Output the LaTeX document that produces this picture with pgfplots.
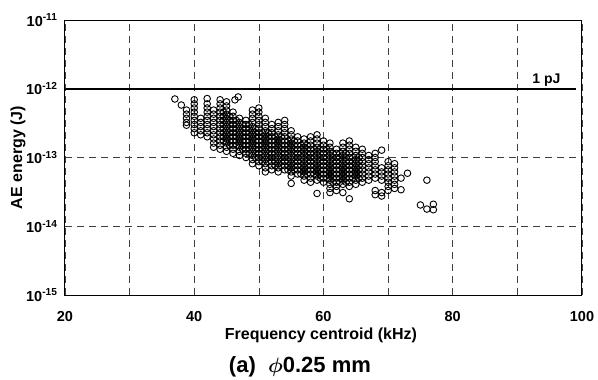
\documentclass[border=0pt]{standalone}
\usepackage{amsmath}
\usepackage{fontspec}
\setmainfont{Liberation Sans}
\usepackage{pgfplots}
\pgfplotsset{compat=1.18}
\begin{document}
\begin{tikzpicture}
\useasboundingbox (-65pt,-85pt) rectangle (533pt,295pt);
\begin{axis}[
  at={(0pt,0pt)}, anchor=south west,
  scale only axis, width=517pt, height=275pt,
  xmin=20, xmax=100, ymode=log, ymin=1e-15, ymax=1e-11,
  xtick={20,30,...,100}, xticklabels={20,,40,,60,,80,,100},
  ytick={1e-15,1e-14,1e-13,1e-12,1e-11},
  yticklabels={10\textsuperscript{-15},10\textsuperscript{-14},10\textsuperscript{-13},10\textsuperscript{-12},10\textsuperscript{-11}},
  yminorticks=false, major tick length=0pt,
  xticklabel style={font=\bfseries\fontsize{14.5}{16}\selectfont, yshift=-13pt},
  yticklabel style={font=\bfseries\fontsize{14.5}{16}\selectfont, xshift=-4pt},
  grid=major,
  major grid style={dash pattern=on 7pt off 5pt, line width=0.6pt, black!75},
  axis line style={line width=1pt},
  xlabel={Frequency centroid (kHz)},
  ylabel={AE energy (J)},
  every axis x label/.style={at={(axis description cs:0.495,-0.145)}, anchor=center, font=\bfseries\fontsize{16}{18}\selectfont},
  every axis y label/.style={at={(axis description cs:-0.091,0.5)}, anchor=center, rotate=90, font=\bfseries\fontsize{16}{18}\selectfont},
  clip=false,
]
\addplot[black, line width=1.6pt] coordinates {(20,1e-12) (99,1e-12)};
\node[anchor=south east, font=\bfseries\fontsize{14}{16}\selectfont, inner sep=2pt] at (axis cs:97,1e-12) {1 pJ};
\addplot[only marks, mark=o, mark size=3.3pt, mark options={line width=0.9pt, black}] coordinates {
(37,7.1e-13) (38,5.8e-13)
(38.8,4.9e-13) (38.8,4.27e-13) (38.8,3.72e-13) (38.8,3.24e-13) (38.8,2.95e-13)
(40,6.92e-13) (40,6.03e-13) (40,5.25e-13) (40,4.57e-13) (40,3.98e-13) (40,3.47e-13) (40,3.02e-13) (40,2.63e-13) (40,2.29e-13)
(41,3.72e-13) (41,3.24e-13) (41,2.82e-13) (41,2.45e-13) (41,2.14e-13)
(42,7.2e-13) (42,6.03e-13) (42,5.25e-13) (42,4.57e-13) (42,3.98e-13) (42,3.47e-13) (42,3.02e-13) (42,2.63e-13) (42,2.29e-13) (42,2.00e-13)
(43,4.90e-13) (43,4.27e-13) (43,3.72e-13) (43,3.24e-13) (43,2.82e-13) (43,2.45e-13) (43,2.14e-13) (43,1.86e-13) (43,1.62e-13) (43,1.41e-13)
(44,6.92e-13) (44,6.03e-13) (44,5.25e-13) (44,4.57e-13) (44,3.98e-13) (44,3.47e-13) (44,3.02e-13) (44,2.63e-13) (44,2.29e-13) (44,2.00e-13) (44,1.74e-13) (44,1.51e-13) (44,1.32e-13)
(45,6.46e-13) (45,5.62e-13) (45,4.90e-13) (45,4.27e-13) (45,3.72e-13) (45,3.24e-13) (45,2.82e-13) (45,2.45e-13) (45,2.14e-13) (45,1.86e-13) (45,1.62e-13) (45,1.41e-13) (45,1.23e-13)
(46,4.57e-13) (46,3.98e-13) (46,3.47e-13) (46,3.02e-13) (46,2.63e-13) (46,2.29e-13) (46,2.00e-13) (46,1.74e-13) (46,1.51e-13) (46,1.32e-13) (46,1.15e-13)
(46.8,7.6e-13) (46.3,6.9e-13)
(47,3.72e-13) (47,3.24e-13) (47,2.82e-13) (47,2.45e-13) (47,2.14e-13) (47,1.86e-13) (47,1.62e-13) (47,1.41e-13) (47,1.23e-13) (47,1.07e-13)
(48,3.47e-13) (48,3.02e-13) (48,2.63e-13) (48,2.29e-13) (48,2.00e-13) (48,1.74e-13) (48,1.51e-13) (48,1.32e-13) (48,1.15e-13) (48,1.00e-13)
(49,4.90e-13) (49,4.27e-13) (49,3.72e-13) (49,3.24e-13) (49,2.82e-13) (49,2.45e-13) (49,2.14e-13) (49,1.86e-13) (49,1.62e-13) (49,1.41e-13) (49,1.23e-13) (49,1.07e-13) (49,9.33e-14) (49,8.13e-14)
(50,5.25e-13) (50,4.57e-13) (50,3.98e-13) (50,3.47e-13) (50,3.02e-13) (50,2.63e-13) (50,2.29e-13) (50,2.00e-13) (50,1.74e-13) (50,1.51e-13) (50,1.32e-13) (50,1.15e-13) (50,1.00e-13) (50,8.71e-14) (50,7.59e-14)
(51,3.72e-13) (51,3.24e-13) (51,2.82e-13) (51,2.45e-13) (51,2.14e-13) (51,1.86e-13) (51,1.62e-13) (51,1.41e-13) (51,1.23e-13) (51,1.07e-13) (51,9.33e-14) (51,8.13e-14) (51,7.08e-14) (51,6.17e-14)
(52,3.02e-13) (52,2.63e-13) (52,2.29e-13) (52,2.00e-13) (52,1.74e-13) (52,1.51e-13) (52,1.32e-13) (52,1.15e-13) (52,1.00e-13) (52,8.71e-14) (52,7.59e-14) (52,6.61e-14)
(53,3.24e-13) (53,2.82e-13) (53,2.45e-13) (53,2.14e-13) (53,1.86e-13) (53,1.62e-13) (53,1.41e-13) (53,1.23e-13) (53,1.07e-13) (53,9.33e-14) (53,8.13e-14) (53,7.08e-14) (53,6.17e-14)
(54,3.47e-13) (54,3.02e-13) (54,2.63e-13) (54,2.29e-13) (54,2.00e-13) (54,1.74e-13) (54,1.51e-13) (54,1.32e-13) (54,1.15e-13) (54,1.00e-13) (54,8.71e-14) (54,7.59e-14) (54,6.61e-14)
(55,2.45e-13) (55,2.14e-13) (55,1.86e-13) (55,1.62e-13) (55,1.41e-13) (55,1.23e-13) (55,1.07e-13) (55,9.33e-14) (55,8.13e-14) (55,7.08e-14) (55,6.17e-14) (55,5.37e-14) (55,4.2e-14)
(56,2.00e-13) (56,1.74e-13) (56,1.51e-13) (56,1.32e-13) (56,1.15e-13) (56,1.00e-13) (56,8.71e-14) (56,7.59e-14) (56,6.61e-14) (56,5.75e-14)
(57,1.86e-13) (57,1.62e-13) (57,1.41e-13) (57,1.23e-13) (57,1.07e-13) (57,9.33e-14) (57,8.13e-14) (57,7.08e-14) (57,6.17e-14) (57,5.37e-14) (57,4.68e-14)
(58,2.00e-13) (58,1.74e-13) (58,1.51e-13) (58,1.32e-13) (58,1.15e-13) (58,1.00e-13) (58,8.71e-14) (58,7.59e-14) (58,6.61e-14) (58,5.75e-14) (58,5.01e-14) (58,4.37e-14)
(59,2.14e-13) (59,1.86e-13) (59,1.62e-13) (59,1.41e-13) (59,1.23e-13) (59,1.07e-13) (59,9.33e-14) (59,8.13e-14) (59,7.08e-14) (59,6.17e-14) (59,5.37e-14) (59,4.68e-14) (59,3.0e-14)
(60,1.74e-13) (60,1.51e-13) (60,1.32e-13) (60,1.15e-13) (60,1.00e-13) (60,8.71e-14) (60,7.59e-14) (60,6.61e-14) (60,5.75e-14) (60,5.01e-14) (60,4.37e-14)
(61,1.62e-13) (61,1.41e-13) (61,1.23e-13) (61,1.07e-13) (61,9.33e-14) (61,8.13e-14) (61,7.08e-14) (61,6.17e-14) (61,5.37e-14) (61,4.68e-14) (61,4.07e-14) (61,3.55e-14) (61,3.09e-14)
(62,1.32e-13) (62,1.15e-13) (62,1.00e-13) (62,8.71e-14) (62,7.59e-14) (62,6.61e-14) (62,5.75e-14) (62,5.01e-14) (62,4.37e-14) (62,3.80e-14) (62,3.31e-14)
(63,1.62e-13) (63,1.41e-13) (63,1.23e-13) (63,1.07e-13) (63,9.33e-14) (63,8.13e-14) (63,7.08e-14) (63,6.17e-14) (63,5.37e-14) (63,4.68e-14) (63,4.07e-14) (63,3.09e-14)
(64,1.74e-13) (64,1.51e-13) (64,1.32e-13) (64,1.15e-13) (64,1.00e-13) (64,8.71e-14) (64,7.59e-14) (64,6.61e-14) (64,5.75e-14) (64,5.01e-14) (64,4.37e-14) (64,3.80e-14) (64,2.51e-14)
(65,1.41e-13) (65,1.23e-13) (65,1.07e-13) (65,9.33e-14) (65,8.13e-14) (65,7.08e-14) (65,6.17e-14) (65,5.37e-14) (65,4.68e-14) (65,4.07e-14)
(66,1.32e-13) (66,1.15e-13) (66,1.00e-13) (66,8.71e-14) (66,7.59e-14) (66,6.61e-14) (66,5.75e-14) (66,5.01e-14) (66,4.37e-14)
(67,1.07e-13) (67,9.33e-14) (67,8.13e-14) (67,7.08e-14) (67,6.17e-14) (67,5.37e-14) (67,4.68e-14)
(68,1.15e-13) (68,1.00e-13) (68,8.71e-14) (68,7.59e-14) (68,6.61e-14) (68,5.75e-14) (68,5.01e-14) (68,3.31e-14) (68,2.88e-14)
(69,1.28e-13) (69,7.08e-14) (69,6.17e-14) (69,5.37e-14) (69,4.68e-14) (69,3.09e-14) (69,2.75e-14)
(70,8.71e-14) (70,7.59e-14) (70,6.61e-14) (70,5.75e-14) (70,5.01e-14) (70,4.37e-14) (70,3.80e-14) (70,3.31e-14)
(71,8.13e-14) (71,7.08e-14) (71,6.17e-14) (71,5.37e-14) (71,4.68e-14) (71,4.07e-14) (71,3.55e-14)
(72,5.01e-14) (72,3.40e-14) (73,5.9e-14)
(75,2.04e-14) (76,4.68e-14) (76,1.78e-14) (77,2.09e-14) (77,1.74e-14)
(44.5,4.57e-13) (44.5,3.98e-13) (44.5,3.47e-13) (44.5,3.02e-13) (44.5,2.63e-13) (44.5,2.29e-13) (44.5,2.00e-13) (44.5,1.74e-13)
(45.5,3.98e-13) (45.5,3.47e-13) (45.5,3.02e-13) (45.5,2.63e-13) (45.5,2.29e-13) (45.5,2.00e-13) (45.5,1.74e-13) (45.5,1.51e-13)
(46.5,3.47e-13) (46.5,3.02e-13) (46.5,2.63e-13) (46.5,2.29e-13) (46.5,2.00e-13) (46.5,1.74e-13) (46.5,1.51e-13)
(47.5,3.02e-13) (47.5,2.63e-13) (47.5,2.29e-13) (47.5,2.00e-13) (47.5,1.74e-13) (47.5,1.51e-13) (47.5,1.32e-13)
(48.5,3.02e-13) (48.5,2.63e-13) (48.5,2.29e-13) (48.5,2.00e-13) (48.5,1.74e-13) (48.5,1.51e-13) (48.5,1.32e-13) (48.5,1.15e-13)
(49.5,2.63e-13) (49.5,2.29e-13) (49.5,2.00e-13) (49.5,1.74e-13) (49.5,1.51e-13) (49.5,1.32e-13) (49.5,1.15e-13) (49.5,1.00e-13)
(50.5,2.29e-13) (50.5,2.00e-13) (50.5,1.74e-13) (50.5,1.51e-13) (50.5,1.32e-13) (50.5,1.15e-13) (50.5,1.00e-13) (50.5,8.71e-14)
(51.5,2.29e-13) (51.5,2.00e-13) (51.5,1.74e-13) (51.5,1.51e-13) (51.5,1.32e-13) (51.5,1.15e-13) (51.5,1.00e-13) (51.5,8.71e-14)
(52.5,2.00e-13) (52.5,1.74e-13) (52.5,1.51e-13) (52.5,1.32e-13) (52.5,1.15e-13) (52.5,1.00e-13) (52.5,8.71e-14) (52.5,7.59e-14)
(53.5,2.00e-13) (53.5,1.74e-13) (53.5,1.51e-13) (53.5,1.32e-13) (53.5,1.15e-13) (53.5,1.00e-13) (53.5,8.71e-14) (53.5,7.59e-14)
(54.5,1.74e-13) (54.5,1.51e-13) (54.5,1.32e-13) (54.5,1.15e-13) (54.5,1.00e-13) (54.5,8.71e-14) (54.5,7.59e-14) (54.5,6.61e-14)
(55.5,1.74e-13) (55.5,1.51e-13) (55.5,1.32e-13) (55.5,1.15e-13) (55.5,1.00e-13) (55.5,8.71e-14) (55.5,7.59e-14) (55.5,6.61e-14)
(56.5,1.51e-13) (56.5,1.32e-13) (56.5,1.15e-13) (56.5,1.00e-13) (56.5,8.71e-14) (56.5,7.59e-14) (56.5,6.61e-14) (56.5,5.75e-14)
(57.5,1.51e-13) (57.5,1.32e-13) (57.5,1.15e-13) (57.5,1.00e-13) (57.5,8.71e-14) (57.5,7.59e-14) (57.5,6.61e-14) (57.5,5.75e-14)
(58.5,1.32e-13) (58.5,1.15e-13) (58.5,1.00e-13) (58.5,8.71e-14) (58.5,7.59e-14) (58.5,6.61e-14) (58.5,5.75e-14)
(59.5,1.32e-13) (59.5,1.15e-13) (59.5,1.00e-13) (59.5,8.71e-14) (59.5,7.59e-14) (59.5,6.61e-14) (59.5,5.75e-14) (59.5,5.01e-14)
(60.5,1.32e-13) (60.5,1.15e-13) (60.5,1.00e-13) (60.5,8.71e-14) (60.5,7.59e-14) (60.5,6.61e-14) (60.5,5.75e-14) (60.5,5.01e-14)
(61.5,1.15e-13) (61.5,1.00e-13) (61.5,8.71e-14) (61.5,7.59e-14) (61.5,6.61e-14) (61.5,5.75e-14) (61.5,5.01e-14) (61.5,4.37e-14)
(62.5,1.15e-13) (62.5,1.00e-13) (62.5,8.71e-14) (62.5,7.59e-14) (62.5,6.61e-14) (62.5,5.75e-14) (62.5,5.01e-14) (62.5,4.37e-14)
(63.5,1.15e-13) (63.5,1.00e-13) (63.5,8.71e-14) (63.5,7.59e-14) (63.5,6.61e-14) (63.5,5.75e-14) (63.5,5.01e-14) (63.5,4.37e-14)
(64.5,1.00e-13) (64.5,8.71e-14) (64.5,7.59e-14) (64.5,6.61e-14) (64.5,5.75e-14) (64.5,5.01e-14)
(65.5,1.00e-13) (65.5,8.71e-14) (65.5,7.59e-14) (65.5,6.61e-14) (65.5,5.75e-14) (65.5,5.01e-14)
};
\node[font=\bfseries\fontsize{22}{25}\selectfont, anchor=center] at (axis description cs:0.4545,-0.262) {(a)\ \ $\boldsymbol{\phi}$0.25 mm};
\end{axis}
\end{tikzpicture}
\end{document}
